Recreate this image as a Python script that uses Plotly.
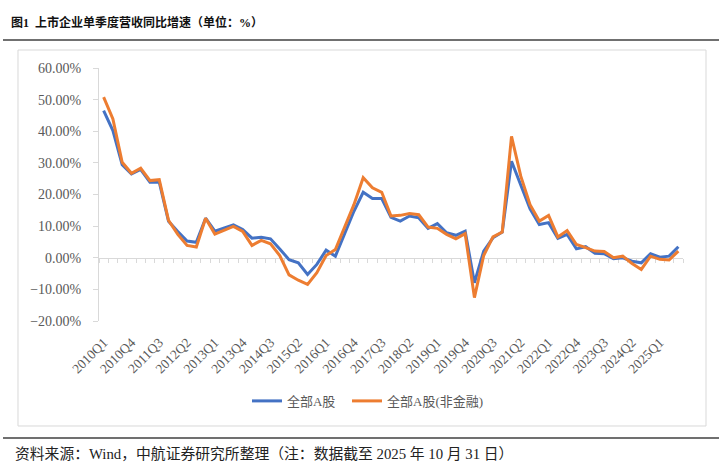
import plotly.graph_objects as go

# quarters 2010Q1 .. 2025Q3
quarters = [f"{y}Q{q}" for y in range(2010, 2026) for q in range(1, 5)][:63]

# single-quarter revenue YoY growth, %
all_a = [46.5, 40.2, 29.4, 26.5, 27.9, 23.9, 23.9, 11.5, 8.3, 5.3,
         4.9, 12.5, 8.4, 9.4, 10.4, 8.9, 6.2, 6.5, 6.0, 2.8,
         -0.6, -1.6, -5.3, -2.1, 2.4, 0.5, 7.9, 14.7, 20.7, 18.7,
         18.7, 12.8, 11.6, 13.2, 12.6, 9.3, 10.8, 7.9, 7.1, 8.4,
         -7.9, 2.1, 6.3, 8.1, 30.5, 23.2, 15.5, 10.5, 11.1, 6.1,
         7.4, 2.8, 3.5, 1.4, 1.3, -0.3, 0.0, -1.1, -1.6, 1.3,
         0.2, 0.5, 3.5]
non_fin = [50.8, 43.9, 30.2, 26.7, 28.3, 24.4, 24.7, 11.8, 7.4, 3.9,
           3.4, 12.5, 7.5, 8.6, 9.9, 8.3, 3.9, 5.5, 4.4, 0.7,
           -5.4, -7.1, -8.4, -4.7, 0.7, 2.6, 9.5, 16.8, 25.3, 22.1,
           20.7, 13.2, 13.4, 14.0, 13.6, 9.7, 9.3, 7.4, 6.0, 7.6,
           -12.6, 0.7, 6.6, 8.1, 38.4, 25.8, 16.8, 11.6, 13.4, 6.6,
           8.6, 4.2, 3.2, 2.1, 2.0, 0.0, 0.5, -1.8, -3.7, 0.5,
           -0.5, -0.7, 2.1]

SERIF = "Liberation Serif, Noto Sans CJK SC, serif"
GRAY = "#595959"
AXIS = "#d9d9d9"

idx = list(range(len(quarters)))

fig = go.Figure()
fig.add_trace(go.Scatter(x=idx, y=[v / 100 for v in all_a], name="全部A股",
                         mode="lines", line=dict(color="#4472C4", width=3),
                         xaxis="x", yaxis="y", legend="legend"))
fig.add_trace(go.Scatter(x=idx, y=[v / 100 for v in non_fin], name="全部A股(非金融)",
                         mode="lines", line=dict(color="#ED7D31", width=3),
                         xaxis="x2", yaxis="y", legend="legend2"))

legend_style = dict(orientation="h", y=-0.316, yanchor="middle", xanchor="left",
                    font=dict(size=13, color=GRAY), itemwidth=30,
                    bgcolor="rgba(0,0,0,0)")

fig.update_layout(
    width=719, height=464,
    margin=dict(l=99, r=36, t=68, b=143),
    paper_bgcolor="white", plot_bgcolor="white",
    font=dict(family=SERIF, color=GRAY, size=13),
    showlegend=True,
    legend=dict(x=0.2534, **legend_style),
    legend2=dict(x=0.4247, **legend_style),
    xaxis=dict(range=[-0.5, len(quarters) - 0.5], tickmode="array",
               tickvals=idx[::3], ticktext=quarters[::3], tickangle=-45,
               showgrid=False, zeroline=False, showline=False, ticks="",
               ticklabelstandoff=10, tickfont=dict(size=13.5, color=GRAY)),
    xaxis2=dict(range=[-0.5, len(quarters) - 0.5], overlaying="x", anchor="free",
                position=0.25, side="bottom", showticklabels=False,
                tickmode="linear", tick0=-0.5, dtick=1, ticks="outside",
                ticklen=4, tickcolor=AXIS, showline=True, linecolor=AXIS,
                linewidth=1, showgrid=False, zeroline=False, layer="below traces"),
    yaxis=dict(range=[-0.2, 0.6], dtick=0.1, tickformat=".2%", showgrid=False,
               zeroline=False, showline=True, linecolor=AXIS, ticks="outside",
               ticklen=5, tickcolor=AXIS, ticklabelstandoff=9,
               tickfont=dict(size=14, color=GRAY)),
)

# chart frame, header and footer rules
fig.add_shape(type="rect", xref="paper", yref="paper", x0=-0.1387, x1=1.0394,
              y0=-0.415, y1=1.0711, line=dict(color="#d9d9d9", width=1), layer="below")
fig.add_shape(type="line", xref="paper", yref="paper", x0=-0.1644, x1=1.07,
              y0=1.1107, y1=1.1107, line=dict(color="#404040", width=1.5))
fig.add_shape(type="line", xref="paper", yref="paper", x0=-0.1644, x1=1.07,
              y0=-0.4625, y1=-0.4625, line=dict(color="#404040", width=1.5))

fig.add_annotation(text="<b>图1  上市企业单季度营收同比增速（单位：%）</b>",
                   xref="paper", yref="paper", x=-0.1541, y=1.1818,
                   xanchor="left", yanchor="middle", showarrow=False,
                   font=dict(family=SERIF, size=12, color="#111111"))
fig.add_annotation(text="资料来源：Wind，中航证券研究所整理（注：数据截至 2025 年 10 月 31 日）",
                   xref="paper", yref="paper", x=-0.1473, y=-0.5257,
                   xanchor="left", yanchor="middle", showarrow=False,
                   font=dict(family=SERIF, size=14.8, color="#222222"))

fig.write_html("out.html", config={"displayModeBar": False},
               post_script="document.body.style.margin='0';")
